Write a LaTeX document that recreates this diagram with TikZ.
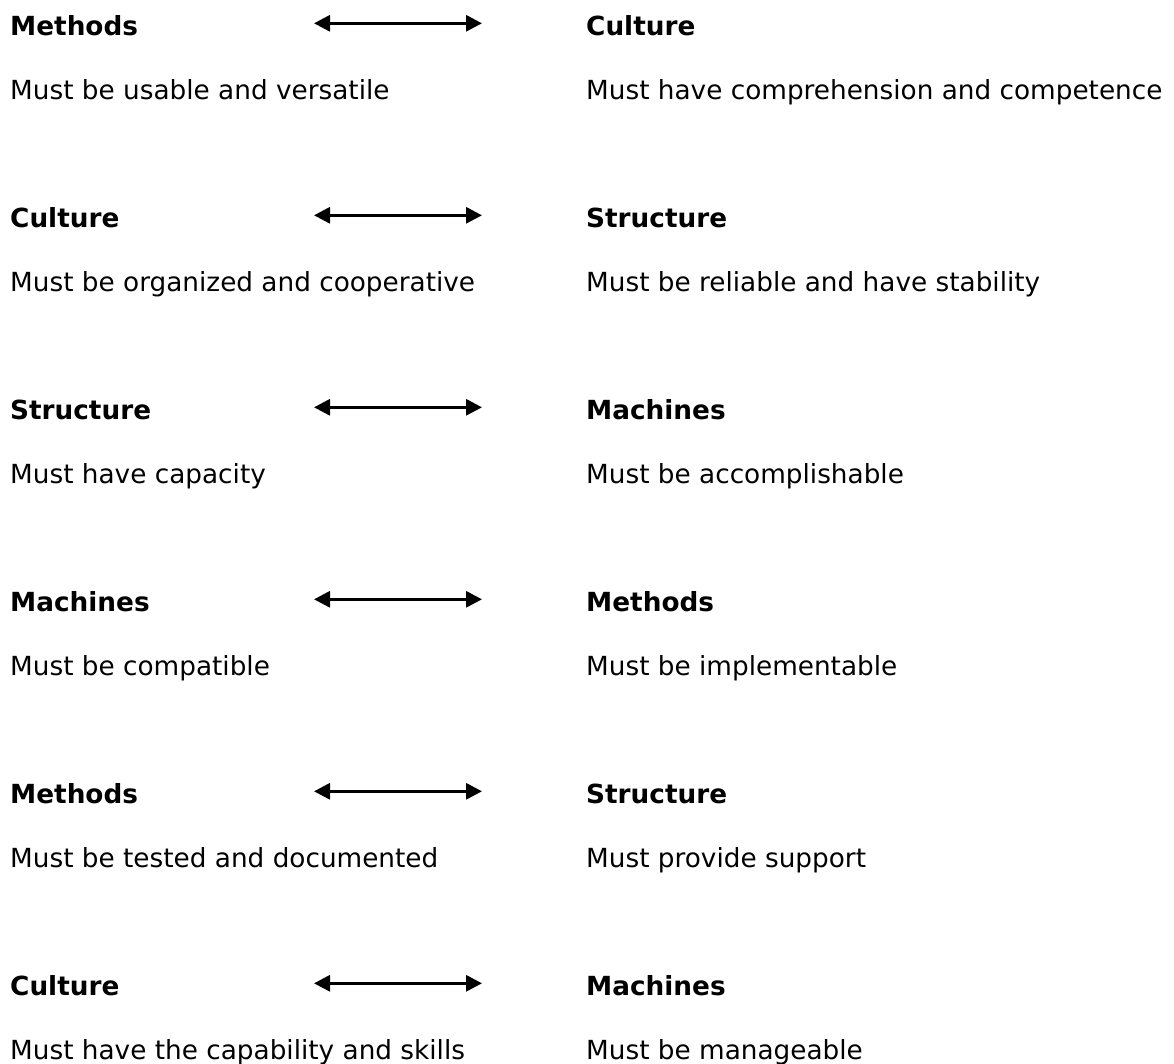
\documentclass[tikz,border=0pt]{standalone}
\usepackage{fontspec}
\setmainfont{DejaVu Sans}
\usetikzlibrary{arrows.meta}
\begin{document}
\begin{tikzpicture}[x=1pt,y=-1pt,
  heading/.style={anchor=base west,inner sep=0pt,font=\fontsize{26.3}{32}\selectfont\bfseries},
  detail/.style={anchor=base west,inner sep=0pt,font=\fontsize{26.3}{32}\selectfont},
  link/.style={line width=3pt,{Triangle[length=16pt,width=16pt]}-{Triangle[length=16pt,width=16pt]}}]
\useasboundingbox (0,0) rectangle (1174,1063);
\foreach \i/\la/\ra/\lt/\rt in {
  1/Methods/Culture/Must be usable and versatile/Must have comprehension and competence,
  2/Culture/Structure/Must be organized and cooperative/Must be reliable and have stability,
  3/Structure/Machines/Must have capacity/Must be accomplishable,
  4/Machines/Methods/Must be compatible/Must be implementable,
  5/Methods/Structure/Must be tested and documented/Must provide support,
  6/Culture/Machines/Must have the capability and skills/Must be manageable}{
  \pgfmathsetmacro{\yb}{35+192*(\i-1)}
  \node[heading] (L\i) at (10,\yb) {\la};
  \node[heading] (R\i) at (586,\yb) {\ra};
  \node[detail] (LD\i) at (10,\yb+64) {\lt};
  \node[detail] (RD\i) at (586,\yb+64) {\rt};
  \coordinate (AL\i) at (314,\yb-11.7);
  \coordinate (AR\i) at (482,\yb-11.7);
  \draw[link] (AL\i) -- (AR\i);
}
\end{tikzpicture}
\end{document}
